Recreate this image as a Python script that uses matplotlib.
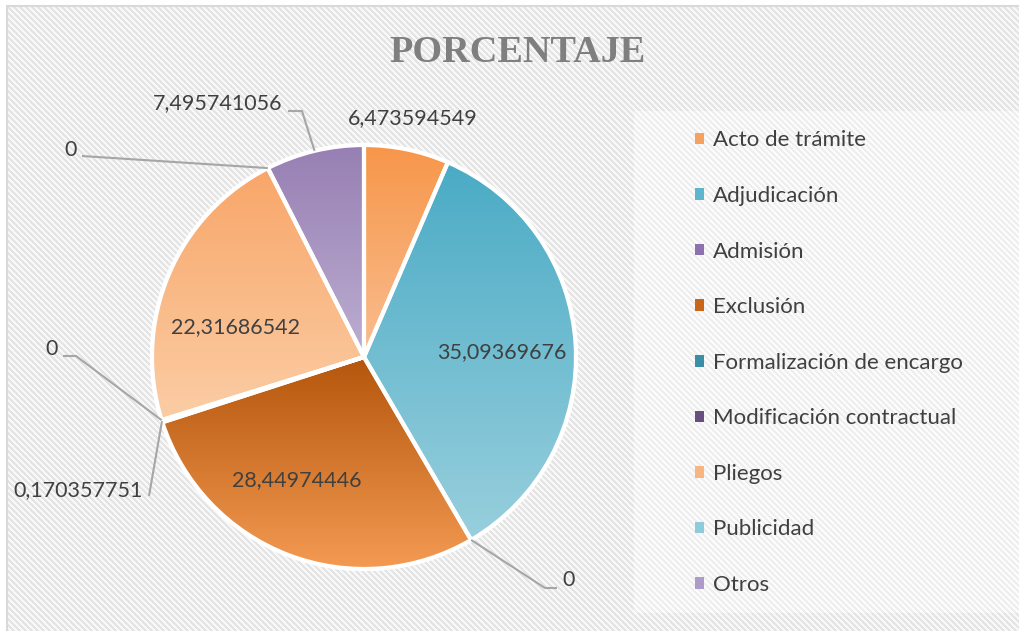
import numpy as np
import matplotlib
matplotlib.use("Agg")
import matplotlib.pyplot as plt
from matplotlib.patches import Patch, Rectangle, Wedge
from matplotlib.colors import to_rgba

# ---- data ----
categories = ["Acto de trámite", "Adjudicación", "Admisión", "Exclusión",
              "Formalización de encargo", "Modificación contractual",
              "Pliegos", "Publicidad", "Otros"]
values = [6.473594549, 35.09369676, 0, 28.44974446, 0.170357751, 0,
          22.31686542, 0, 7.495741056]
title = "PORCENTAJE"

# gradient colours (top, bottom) and legend colours per category
grad_top = ["#F7964A", "#4AABC5", "#8064A2", "#B4560C", "#31859C", "#5F497A",
            "#F8A669", "#93CDDD", "#977FB3"]
grad_bot = ["#F9BE90", "#98CFDD", "#A995C4", "#F49A52", "#5FB3C8", "#8A72A8",
            "#FBCDA5", "#B7DEE8", "#BCAED1"]
legend_cols = ["#F7A15E", "#5DB6CE", "#8C72AE", "#C9661A", "#3A8FA6", "#65507F",
               "#F9B581", "#8ECBDB", "#AD9BC9"]

W, H = 1019, 631
fig = plt.figure(figsize=(W / 100, H / 100), dpi=100)
ax = fig.add_axes([0, 0, 1, 1])
ax.set_xlim(0, W)
ax.set_ylim(0, H)
ax.axis("off")

# ---- background diagonal stripes ----
yy, xx = np.mgrid[0:H, 0:W]
stripe = ((xx - yy) % 6) < 3
bg = np.ones((H, W, 3))
bg[stripe] = np.array([0.895, 0.895, 0.895])
bg[~stripe] = np.array([0.975, 0.975, 0.975])
leg_mask = (xx >= 634) & (yy >= 111) & (yy <= 612)
bg[leg_mask & stripe] = np.array([0.935, 0.935, 0.935])
bg[leg_mask & ~stripe] = np.array([0.99, 0.99, 0.99])
bg[:6, :] = 1.0
bg[:, :7] = 1.0
ax.imshow(bg, extent=(0, W, 0, H), origin="upper", interpolation="nearest", zorder=0)
ax.add_patch(Rectangle((7, -10), W + 20, H - 6 + 10, fill=False,
                       edgecolor="#D9D9D9", linewidth=1.5, zorder=1))

# ---- pie ----
cx, cy, R = 364, 631 - 357, 212
wedges, _ = ax.pie(values, startangle=90, counterclock=False, center=(cx, cy),
                   radius=R, colors=grad_top,
                   wedgeprops=dict(edgecolor="white", linewidth=3))
ax.set_aspect("auto")

for i, w in enumerate(wedges):
    w.set_zorder(2)
    if values[i] <= 0:
        continue
    ext = w.get_path().get_extents()
    n = 256
    t = np.linspace(0, 1, n)[:, None]
    c0 = np.array(to_rgba(grad_top[i]))
    c1 = np.array(to_rgba(grad_bot[i]))
    grad = (c0 * (1 - t) + c1 * t)[:, None, :]
    im = ax.imshow(grad, extent=(ext.x0, ext.x1, ext.y0, ext.y1), origin="upper",
                   interpolation="bilinear", aspect="auto", zorder=3)
    im.set_clip_path(w)
    ax.add_patch(Wedge((cx, cy), R, w.theta1, w.theta2, facecolor="none",
                       edgecolor="white", linewidth=3, zorder=4))

ax.set_xlim(0, W)
ax.set_ylim(0, H)

# ---- labels ----
font = "Lato"
fs = 15.5
tcol = "#404040"
lcol = "#A6A6A6"


def fmt(v):
    return ("%.10g" % v).replace(".", ",")


def anchor(i, frac=0.5, rr=R):
    w = wedges[i]
    a = np.deg2rad(w.theta1 + (w.theta2 - w.theta1) * frac)
    return cx + rr * np.cos(a), cy + rr * np.sin(a)


inside = {1: (502, 352), 3: (297, 480), 6: (236, 327)}
for i, (x, y) in inside.items():
    ax.text(x, H - y, fmt(values[i]), fontsize=fs, family=font, color=tcol,
            ha="center", va="center", zorder=5)

ax.text(413, H - 118, fmt(values[0]), fontsize=fs, family=font, color=tcol,
        ha="center", va="center", zorder=5)

outs = [
    (8, (282, 103), "right", [(288, 111), (302, 111)]),
    (7, (77, 150), "right", [(82, 156)]),
    (5, (58, 349), "right", [(63, 356), (76, 356)]),
    (4, (143, 490), "right", [(149, 496)]),
    (2, (562, 580), "left", [(557, 588), (545, 588)]),
]
for i, (x, y), ha, pts in outs:
    ax.text(x, H - y, fmt(values[i]), fontsize=fs, family=font, color=tcol,
            ha=ha, va="center", zorder=5)
    ax_, ay_ = anchor(i)
    px = [p[0] for p in pts] + [ax_]
    py = [H - p[1] for p in pts] + [ay_]
    ax.plot(px, py, color=lcol, linewidth=1.5, zorder=5, solid_capstyle="butt")

# ---- title ----
ax.text(518, H - 52, title, fontsize=27.5, family="Liberation Serif",
        fontweight="bold", color="#7F7F7F", ha="center", va="center", zorder=5)

# ---- legend ----
lfs = 16
handles = [Patch(facecolor=c, edgecolor="none") for c in legend_cols]
leg = ax.legend(handles, categories, loc="upper left",
                bbox_to_anchor=(695 / W, 1 - 130.5 / H), frameon=False,
                prop=dict(family=font, size=lfs), labelcolor=tcol,
                handlelength=0.42, handleheight=0.42, handletextpad=0.38,
                labelspacing=1.6, borderpad=0, borderaxespad=0)
leg.set_zorder(6)

fig.savefig("out.png", dpi=100)
